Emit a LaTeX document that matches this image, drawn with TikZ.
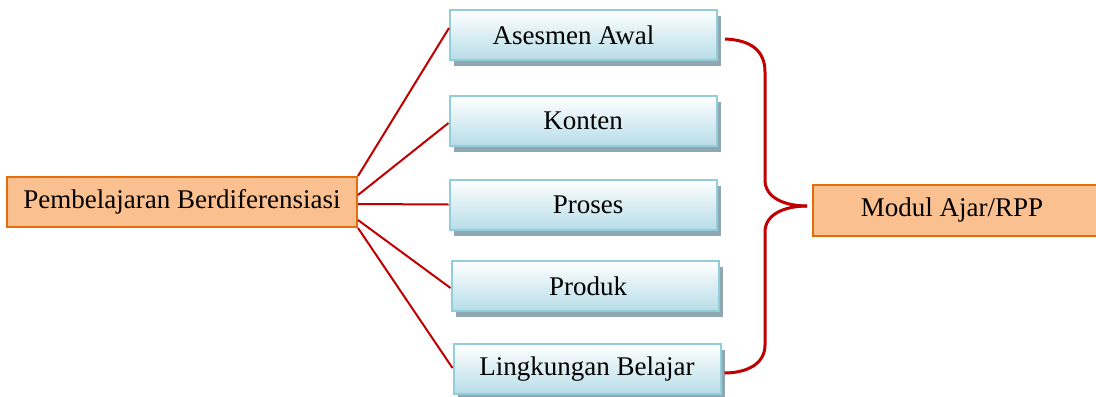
\documentclass[tikz,border=0pt]{standalone}
\usepackage{fontspec}
\setmainfont{Liberation Serif}
\usetikzlibrary{shadows}
\definecolor{orfill}{HTML}{FAC090}
\definecolor{ordraw}{HTML}{E46C0A}
\definecolor{bluedraw}{HTML}{92CDDC}
\definecolor{bluebot}{HTML}{B7DDE8}
\definecolor{shadowc}{HTML}{8EA7B0}
\definecolor{linered}{HTML}{C00000}
\begin{document}
\begin{tikzpicture}[x=0.5pt,y=-0.5pt,
  orbox/.style={draw=ordraw,fill=orfill,line width=1pt,inner sep=0pt,font=\fontsize{13.5pt}{16pt}\selectfont},
  bluebox/.style={draw=bluedraw,line width=1pt,top color=white,bottom color=bluebot,
    minimum width=133.5pt,minimum height=25pt,inner sep=0pt,font=\fontsize{13.5pt}{16pt}\selectfont,
    drop shadow={shadow xshift=2pt,shadow yshift=-3pt,fill=shadowc,opacity=1}},
  conn/.style={draw=linered,line width=1pt},
  bracel/.style={draw=linered,line width=1.5pt}]
\useasboundingbox (0,0) rectangle (1096,396);
% left and right boxes
\node[orbox,minimum width=175pt,minimum height=25pt] (P) at (182,202) {Pembelajaran Berdiferensiasi};
\node[orbox,minimum width=142pt,minimum height=25.5pt] (M) at (955,210.5) {Modul Ajar/RPP\hspace*{3pt}};
% blue boxes
\node[bluebox] (A) at (583.5,35) {Asesmen Awal\hspace*{10pt}};
\node[bluebox] (K) at (583,121) {Konten};
\node[bluebox] (R) at (583,204.5) {\hspace*{5pt}Proses};
\node[bluebox] (D) at (585,286) {\hspace*{3pt}Produk};
\node[bluebox] (L) at (587,369) {Lingkungan Belajar};
% connectors
\draw[conn] (P.north east) -- ([yshift=3.5pt]A.west);
\draw[conn] ([yshift=3.5pt]P.east) -- ([yshift=-1pt]K.west);
\draw[conn] ([yshift=-1pt]P.east) -- (R.west);
\draw[conn] ([yshift=-9pt]P.east) -- ([yshift=-1pt]D.west);
\draw[conn] (P.south east) -- ([yshift=0.5pt]L.west);
% brace
\coordinate (T) at (807,206);
\draw[bracel] ([xshift=3.5pt,yshift=-2pt]A.east) .. controls (750,40) and (765,50) .. (765,72)
  -- (765,180) .. controls (765,198) and (785,206) .. (T);
\draw[bracel] ([xshift=1.5pt,yshift=-2pt]L.east) .. controls (745,373) and (765,365) .. (765,345)
  -- (765,232) .. controls (765,214) and (785,206) .. (T);
\end{tikzpicture}
\end{document}
